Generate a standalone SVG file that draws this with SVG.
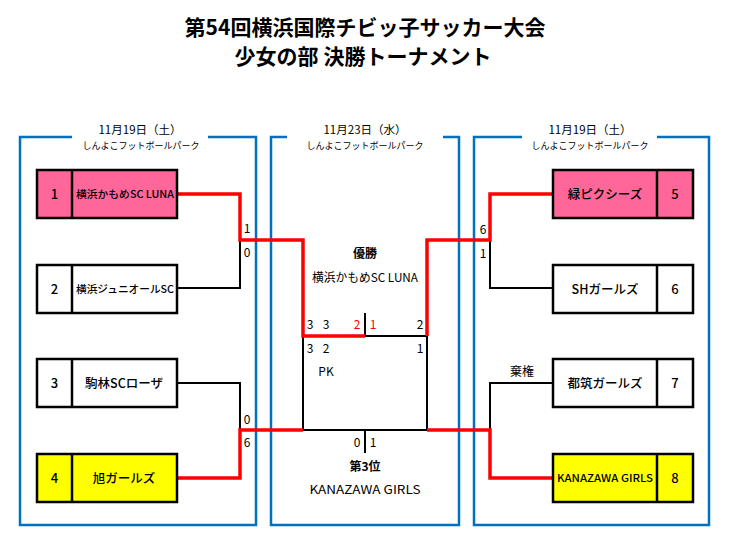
<svg xmlns="http://www.w3.org/2000/svg" width="731" height="547" viewBox="0 0 731 547">
<style>
text{font-family:"Noto Sans CJK JP","Noto Sans",sans-serif;fill:#000}
.title{font-size:21px;font-weight:bold;text-anchor:middle}
.date{font-size:11.5px;text-anchor:middle}
.venue{font-size:9px;text-anchor:middle}
.panel{fill:none;stroke:#0070C0;stroke-width:2.5}
.box{stroke:#000;stroke-width:2.5}
.num{font-size:13px;text-anchor:middle;font-weight:500}
.name{font-size:12.5px;text-anchor:middle;font-weight:500}
.sm{font-size:10.5px;text-anchor:middle;font-weight:500}
.sc{font-size:12px;text-anchor:middle}
.red{fill:#FF0000}
.win{fill:none;stroke:#FF0000;stroke-width:3.5}
.lose{fill:none;stroke:#000;stroke-width:2}
.pink{fill:#FF6699}
.yel{fill:#FFFF00}
.wht{fill:#FFFFFF}
</style>
<rect width="731" height="547" fill="#fff"/>
<g id="title">
<text class="title" x="365" y="35">第54回横浜国際チビッ子サッカー大会</text>
<text class="title" x="363" y="64">少女の部 決勝トーナメント</text>
</g>
<g id="panels">
<path class="panel" d="M72,137 H20 V525 H256 V137 H208"/>
<path class="panel" d="M287,137 H271 V525 H459 V137 H443"/>
<path class="panel" d="M522,137 H474 V525 H709 V137 H657"/>
<text class="date" x="140" y="134">11月19日（土）</text>
<text class="venue" x="141" y="148.5">しんよこフットボールパーク</text>
<text class="date" x="365" y="134">11月23日（水）</text>
<text class="venue" x="365" y="148.5">しんよこフットボールパーク</text>
<text class="date" x="590" y="134">11月19日（土）</text>
<text class="venue" x="590" y="148.5">しんよこフットボールパーク</text>
</g>
<g id="connectors">
<path class="lose" d="M177,288 H240 V240"/>
<path class="lose" d="M177,383 H240 V430"/>
<path class="lose" d="M553,288 H490 V240"/>
<path class="lose" d="M553,383 H490 V430"/>
<path class="lose" d="M365,313 V336 H427"/>
<path class="lose" d="M303,336 V430 H427 V336"/>
<path class="lose" d="M365,430 V453"/>
<path class="win" d="M177,194 H240 V240 H303 V336 H365"/>
<path class="win" d="M177,478 H240 V430 H303"/>
<path class="win" d="M553,194 H490 V240 H427 V336"/>
<path class="win" d="M553,478 H490 V430 H427"/>
</g>
<g id="node1">
<rect class="box pink" x="37" y="170" width="140" height="48"/>
<line class="box" x1="72" y1="170" x2="72" y2="218"/>
<text class="num" x="54.5" y="199">1</text>
<text class="sm" x="125" y="198" textLength="98" lengthAdjust="spacingAndGlyphs">横浜かもめSC LUNA</text>
</g>
<g id="node2">
<rect class="box wht" x="37" y="265" width="140" height="48"/>
<line class="box" x1="72" y1="265" x2="72" y2="313"/>
<text class="num" x="54.5" y="294">2</text>
<text class="sm" x="125" y="293" textLength="98" lengthAdjust="spacingAndGlyphs">横浜ジュニオールSC</text>
</g>
<g id="node3">
<rect class="box wht" x="37" y="359" width="140" height="48"/>
<line class="box" x1="72" y1="359" x2="72" y2="407"/>
<text class="num" x="54.5" y="388">3</text>
<text class="name" x="124" y="388">駒林SCローザ</text>
</g>
<g id="node4">
<rect class="box yel" x="37" y="454" width="140" height="48"/>
<line class="box" x1="72" y1="454" x2="72" y2="502"/>
<text class="num" x="54.5" y="483">4</text>
<text class="name" x="124" y="483">旭ガールズ</text>
</g>
<g id="node5">
<rect class="box pink" x="553" y="170" width="140" height="48"/>
<line class="box" x1="657" y1="170" x2="657" y2="218"/>
<text class="num" x="675" y="199">5</text>
<text class="name" x="605" y="199">緑ピクシーズ</text>
</g>
<g id="node6">
<rect class="box wht" x="553" y="265" width="140" height="48"/>
<line class="box" x1="657" y1="265" x2="657" y2="313"/>
<text class="num" x="675" y="294">6</text>
<text class="name" x="605" y="294">SHガールズ</text>
</g>
<g id="node7">
<rect class="box wht" x="553" y="359" width="140" height="48"/>
<line class="box" x1="657" y1="359" x2="657" y2="407"/>
<text class="num" x="675" y="388">7</text>
<text class="name" x="605" y="388">都筑ガールズ</text>
</g>
<g id="node8">
<rect class="box yel" x="553" y="454" width="140" height="48"/>
<line class="box" x1="657" y1="454" x2="657" y2="502"/>
<text class="num" x="675" y="483">8</text>
<text class="sm" x="605" y="482" textLength="96" lengthAdjust="spacingAndGlyphs">KANAZAWA GIRLS</text>
</g>
<g id="scores">
<text class="sc" x="247" y="233">1</text>
<text class="sc" x="247" y="257">0</text>
<text class="sc" x="247" y="424">0</text>
<text class="sc" x="247" y="447">6</text>
<text class="sc" x="483" y="234">6</text>
<text class="sc" x="483" y="258">1</text>
<text class="sc" x="522" y="376">棄権</text>
<text class="sc" x="310" y="329">3</text>
<text class="sc" x="326" y="329">3</text>
<text class="sc red" x="357" y="329">2</text>
<text class="sc red" x="373" y="329">1</text>
<text class="sc" x="420" y="329">2</text>
<text class="sc" x="310" y="353">3</text>
<text class="sc" x="326" y="353">2</text>
<text class="sc" x="420" y="353">1</text>
<text class="sc" x="326" y="376">PK</text>
<text class="sc" x="357" y="447">0</text>
<text class="sc" x="373" y="447">1</text>
</g>
<g id="results">
<text class="sc" x="365" y="258" font-weight="bold">優勝</text>
<text class="sc" x="365" y="282" textLength="106" lengthAdjust="spacingAndGlyphs">横浜かもめSC LUNA</text>
<text class="sc" x="365" y="471" font-weight="bold">第3位</text>
<text class="sc" x="365" y="494" textLength="111" lengthAdjust="spacingAndGlyphs">KANAZAWA GIRLS</text>
</g>
</svg>
